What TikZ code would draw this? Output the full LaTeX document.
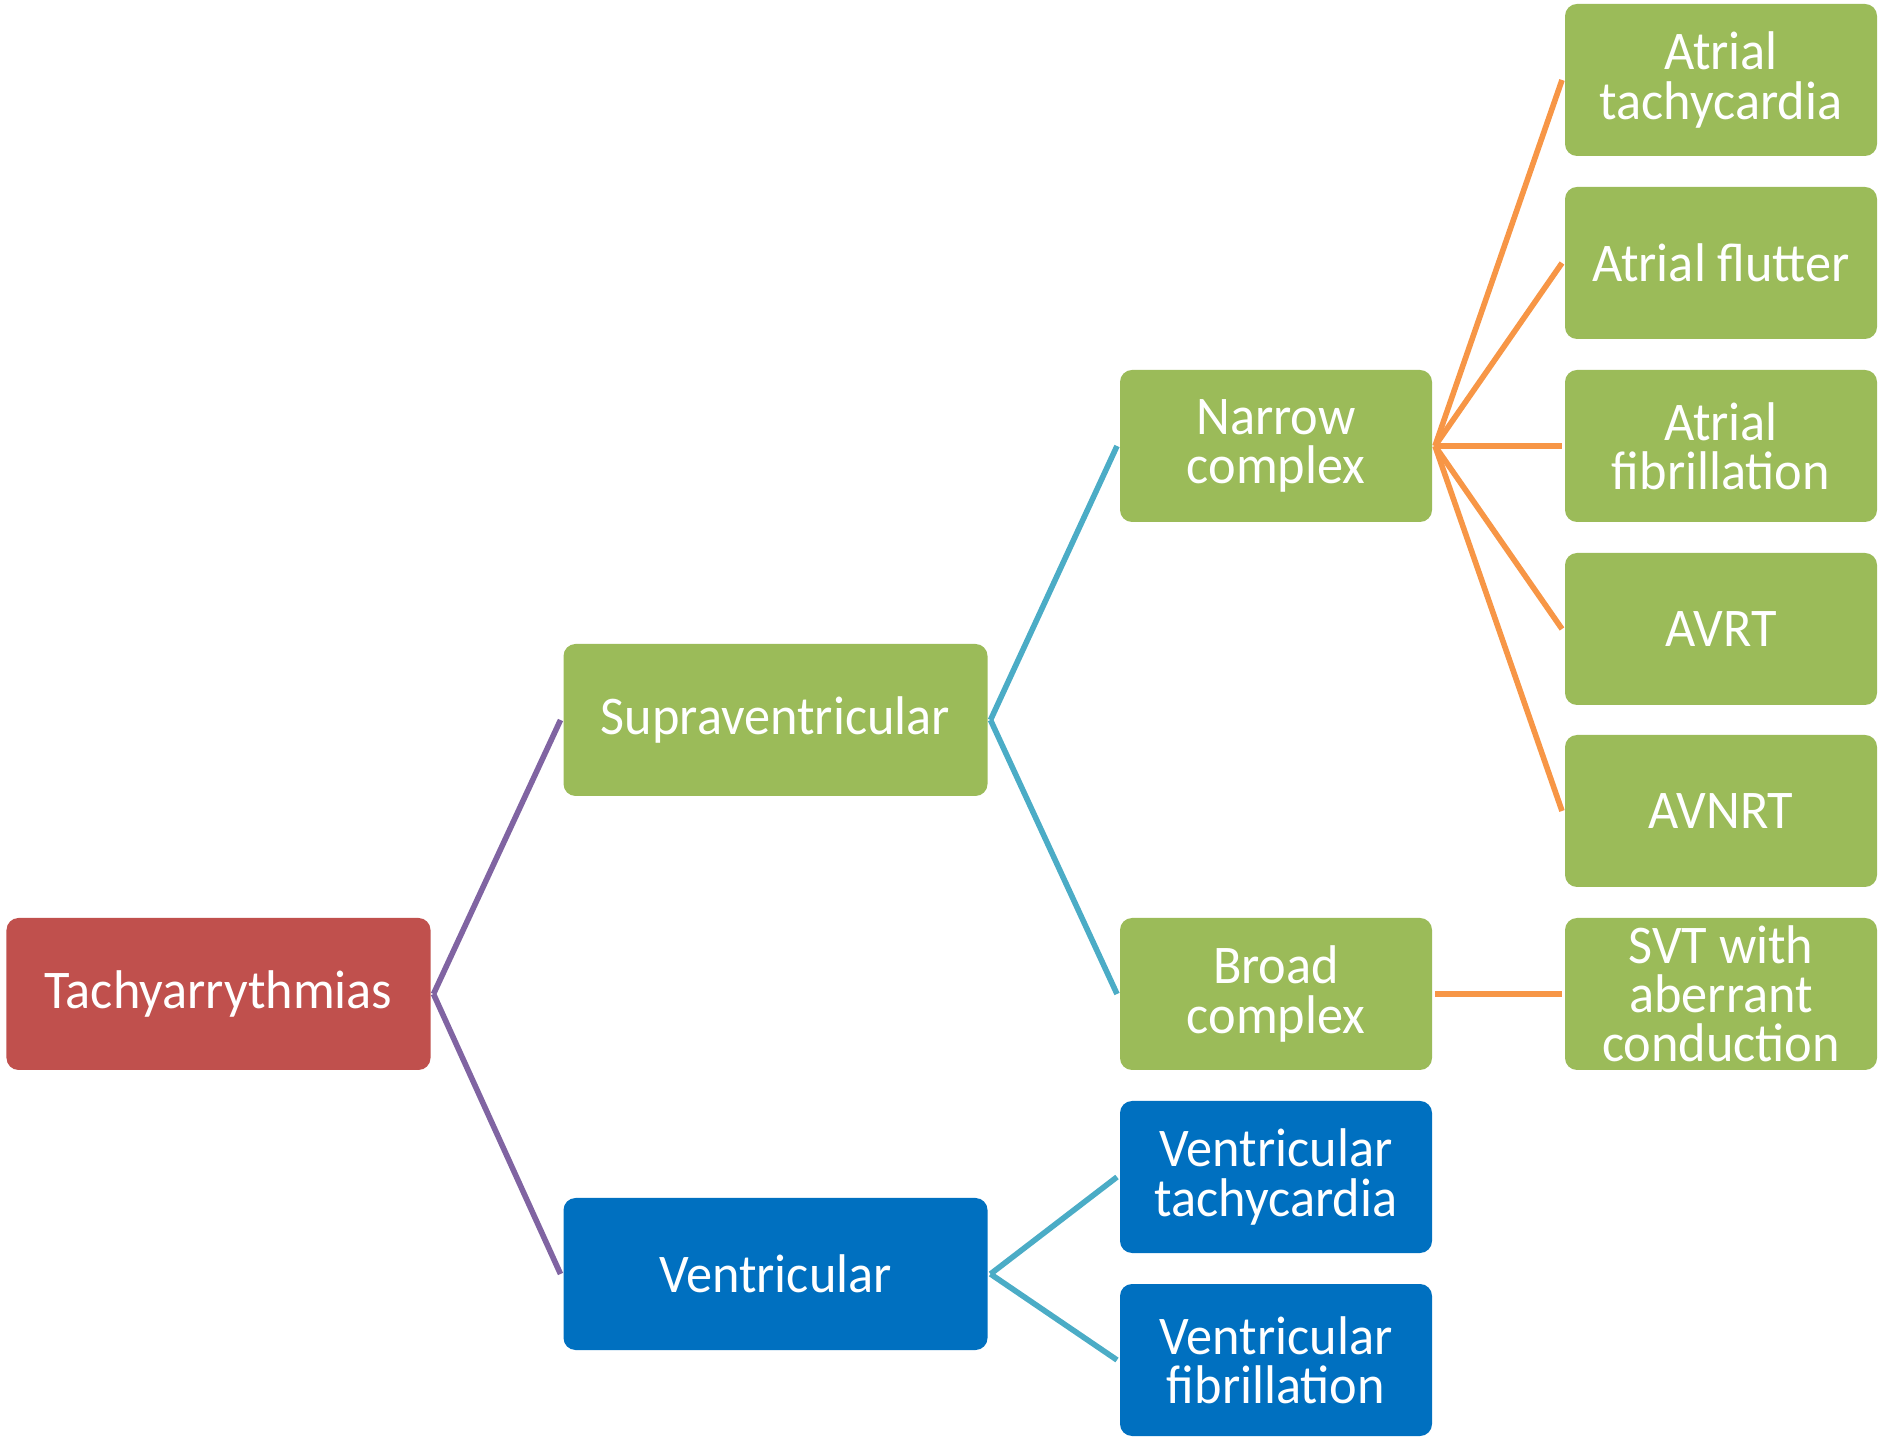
\documentclass[tikz,border=0pt]{standalone}
\usepackage{fontspec}
\setmainfont{Carlito}[FakeStretch=0.96]
\definecolor{tachred}{HTML}{C0504D}
\definecolor{leafgreen}{HTML}{9BBB59}
\definecolor{ventblue}{HTML}{0070C0}
\definecolor{linkpurple}{HTML}{8064A2}
\definecolor{linkcyan}{HTML}{4BACC6}
\definecolor{linkorange}{HTML}{F79646}
\begin{document}
\begin{tikzpicture}[
  box/.style={rectangle, rounded corners=0.12cm, minimum height=1.52cm, inner sep=0pt, outer sep=0.03cm, text=white, align=center, font=\fontsize{15.5}{14}\selectfont},
  widebox/.style={box, minimum width=4.24cm},
  smallbox/.style={box, minimum width=3.12cm},
  link/.style={line width=1.6pt}
]
\useasboundingbox (0,0) rectangle (18.79,14.40);

\node[widebox, fill=tachred] (tach) at (2.185,4.46){Tachyarrythmias};

\node[widebox, fill=leafgreen] (sup) at (7.755,7.20){Supraventricular};
\node[widebox, fill=ventblue] (ven) at (7.755,1.66){Ventricular};

\draw[link, linkpurple](tach.east) -- (sup.west);
\draw[link, linkpurple](tach.east) -- (ven.west);

\node[smallbox, fill=leafgreen] (nar) at (12.76,9.94){Narrow\\complex};
\node[smallbox, fill=leafgreen] (bro) at (12.76,4.46){Broad\\complex};

\draw[link, linkcyan](sup.east) -- (nar.west);
\draw[link, linkcyan](sup.east) -- (bro.west);

\node[smallbox, fill=ventblue] (vt) at (12.76,2.63){Ventricular\\tachycardia};
\node[smallbox, fill=ventblue] (vf) at (12.76,0.80){Ventricular\\fibrillation};

\draw[link, linkcyan](ven.east) -- (vt.west);
\draw[link, linkcyan](ven.east) -- (vf.west);

\node[smallbox, fill=leafgreen] (at) at (17.21,13.60){Atrial\\tachycardia};
\node[smallbox, fill=leafgreen] (afl) at (17.21,11.77){Atrial flutter};
\node[smallbox, fill=leafgreen] (afib) at (17.21,9.94){Atrial\\fibrillation};
\node[smallbox, fill=leafgreen] (avrt) at (17.21,8.11){AVRT};
\node[smallbox, fill=leafgreen] (avnrt) at (17.21,6.29){AVNRT};

\draw[link, linkorange](nar.east) -- (at.west);
\draw[link, linkorange](nar.east) -- (afl.west);
\draw[link, linkorange](nar.east) -- (afib.west);
\draw[link, linkorange](nar.east) -- (avrt.west);
\draw[link, linkorange](nar.east) -- (avnrt.west);

\node[smallbox, fill=leafgreen] (svt) at (17.21,4.46){SVT with\\aberrant\\conduction};

\draw[link, linkorange](bro.east) -- (svt.west);

\end{tikzpicture}
\end{document}
